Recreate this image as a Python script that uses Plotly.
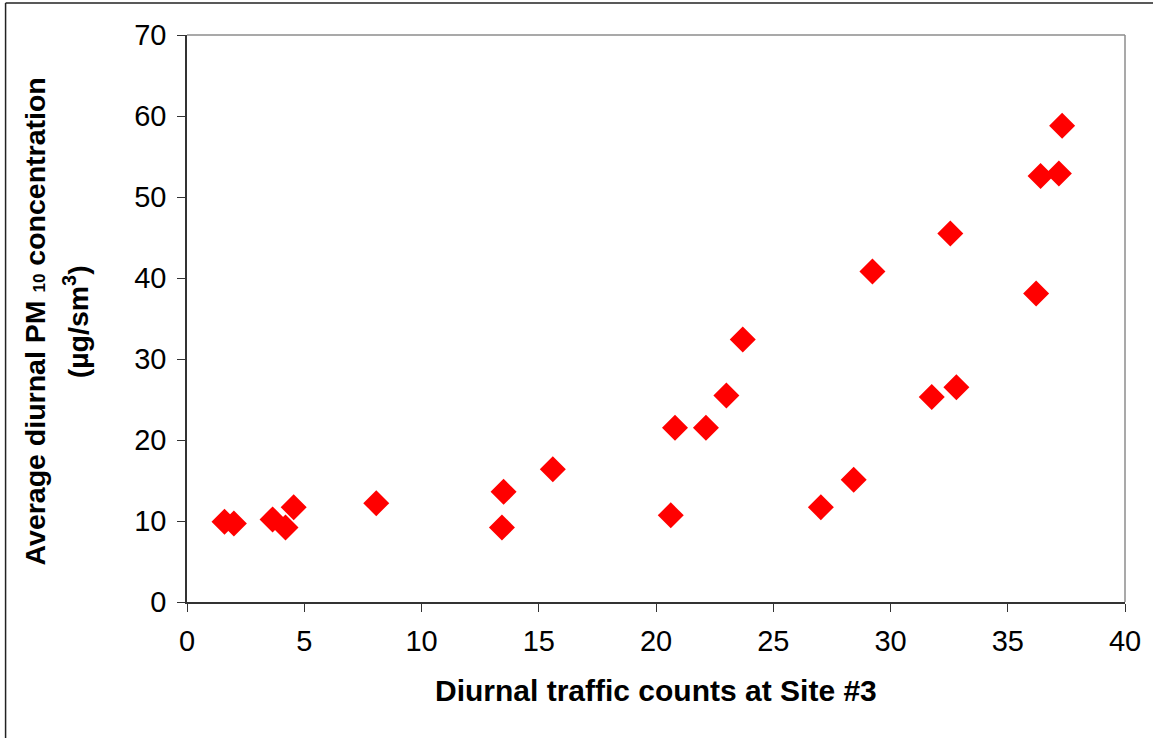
import plotly.graph_objects as go

# Data
traffic_counts = [1.6, 2.0, 3.65, 4.2, 4.55, 8.07, 13.43, 13.5, 15.6,
                  20.63, 20.81, 22.13, 23.0, 23.7, 27.03, 28.43, 29.23,
                  31.76, 32.81, 32.55, 36.21, 36.4, 37.18, 37.32]
pm10_conc = [9.9, 9.7, 10.2, 9.2, 11.7, 12.2, 9.2, 13.6, 16.4,
             10.7, 21.5, 21.5, 25.5, 32.4, 11.7, 15.1, 40.8,
             25.3, 26.5, 45.5, 38.1, 52.6, 52.9, 58.8]
x_ticks = [0, 5, 10, 15, 20, 25, 30, 35, 40]
y_ticks = [0, 10, 20, 30, 40, 50, 60, 70]

x_title = "Diurnal traffic counts at Site #3"
y_title_1 = "Average diurnal PM&nbsp;<span style=\"font-size:17px\">10</span>&nbsp;concentration"
y_title_2 = "(µg/sm<sup>3</sup>)"

FONT = "Liberation Sans, Arial, sans-serif"
L, R, T, B = 187, 25, 35, 136
W, H = 1153, 738
pw, ph = W - L - R, H - T - B


def px_x(px):
    return (px - L) / pw


def px_y(py):
    return (H - B - py) / ph


fig = go.Figure()
fig.add_trace(go.Scatter(
    x=traffic_counts, y=pm10_conc, mode="markers",
    marker=dict(symbol="diamond", size=20, color="#FF0000", line=dict(width=0)),
    showlegend=False, hoverinfo="x+y",
))

axis_common = dict(
    showgrid=False, zeroline=False, showline=True, linecolor="#333333", linewidth=1.5,
    ticks="outside", ticklen=8, tickwidth=1.2, tickcolor="#333333",
    tickfont=dict(family=FONT, size=29, color="#000000"),
)
fig.update_xaxes(range=[0, 40], tickvals=x_ticks, ticktext=[str(v) for v in x_ticks],
                 ticklabelstandoff=4, **axis_common)
fig.update_yaxes(range=[0, 70], tickvals=y_ticks, ticktext=[str(v) for v in y_ticks],
                 ticklabelstandoff=5, **axis_common)

shapes = [
    # top and right plot borders (gray)
    dict(type="line", xref="paper", yref="paper", x0=0, x1=1, y0=1, y1=1,
         line=dict(color="#8c8c8c", width=1.5)),
    dict(type="line", xref="paper", yref="paper", x0=1, x1=1, y0=0, y1=1,
         line=dict(color="#8c8c8c", width=1.5)),
    # outer chart border (left and top visible)
    dict(type="line", xref="paper", yref="paper", x0=px_x(5), x1=px_x(5), y0=px_y(3), y1=px_y(800),
         line=dict(color="#222222", width=1.5)),
    dict(type="line", xref="paper", yref="paper", x0=px_x(5), x1=px_x(1200), y0=px_y(3), y1=px_y(3),
         line=dict(color="#222222", width=1.5)),
]

annotations = [
    dict(text="<b>" + x_title + "</b>", xref="paper", yref="paper", x=0.5, y=px_y(690),
         xanchor="center", yanchor="middle", showarrow=False,
         font=dict(family=FONT, size=30, color="#000000")),
    dict(text="<b>" + y_title_1 + "</b>", xref="paper", yref="paper", x=px_x(35), y=px_y(321),
         xanchor="center", yanchor="middle", showarrow=False, textangle=-90,
         font=dict(family=FONT, size=28.5, color="#000000")),
    dict(text="<b>" + y_title_2 + "</b>", xref="paper", yref="paper", x=px_x(76), y=px_y(322),
         xanchor="center", yanchor="middle", showarrow=False, textangle=-90,
         font=dict(family=FONT, size=28.5, color="#000000")),
]

fig.update_layout(
    width=W, height=H,
    margin=dict(l=L, r=R, t=T, b=B, pad=0),
    paper_bgcolor="#FFFFFF", plot_bgcolor="#FFFFFF",
    shapes=shapes, annotations=annotations,
    font=dict(family=FONT, color="#000000"),
)

fig.write_html("out.html")
